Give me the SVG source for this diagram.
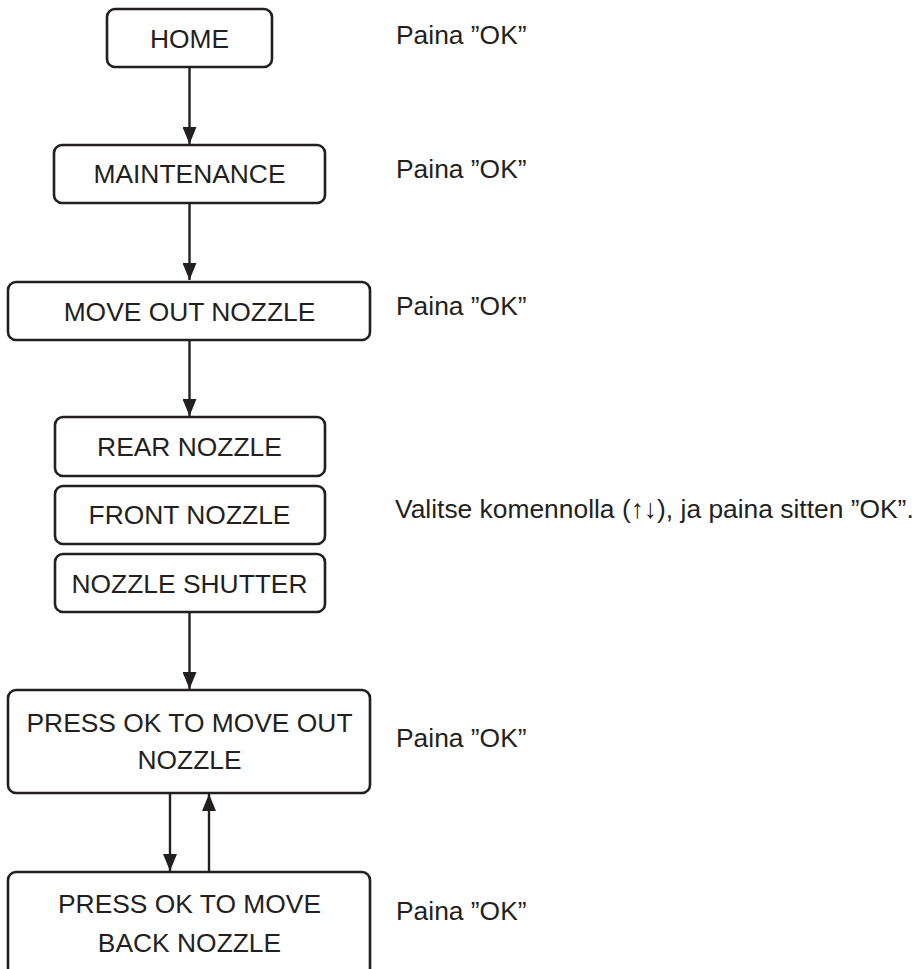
<svg xmlns="http://www.w3.org/2000/svg" width="917" height="969" viewBox="0 0 917 969">
<style>
.box{fill:#fff;stroke:#231f20;stroke-width:2.6}
.t{font-family:"Liberation Sans",Arial,sans-serif;font-size:26.4px;fill:#231f20}
.c{text-anchor:middle}
.ln{stroke:#231f20;stroke-width:2.4;fill:none}
</style>
<defs>
<marker id="ah" viewBox="0 0 17 14" refX="17" refY="7" markerWidth="17" markerHeight="14" markerUnits="userSpaceOnUse" orient="auto">
<path d="M0,0 L17,7 L0,14 Z" fill="#231f20"/>
</marker>
</defs>
<rect width="917" height="969" fill="#fff"/>
<g id="connectors">
<line class="ln" x1="189.5" y1="67" x2="189.5" y2="144" marker-end="url(#ah)"/>
<line class="ln" x1="189.5" y1="203" x2="189.5" y2="280" marker-end="url(#ah)"/>
<line class="ln" x1="189.5" y1="340" x2="189.5" y2="416" marker-end="url(#ah)"/>
<line class="ln" x1="189.5" y1="612" x2="189.5" y2="689" marker-end="url(#ah)"/>
<line class="ln" x1="170" y1="793" x2="170" y2="871" marker-end="url(#ah)"/>
<line class="ln" x1="209" y1="871" x2="209" y2="794" marker-end="url(#ah)"/>
</g>
<g id="home"><rect class="box" x="107" y="9" width="165" height="58" rx="8"/><text class="t c" x="189.5" y="48">HOME</text></g>
<g id="maintenance"><rect class="box" x="54" y="145" width="271" height="58" rx="8"/><text class="t c" x="189.5" y="183">MAINTENANCE</text></g>
<g id="move-out-nozzle"><rect class="box" x="8" y="282" width="362" height="58" rx="8"/><text class="t c" x="189.5" y="321">MOVE OUT NOZZLE</text></g>
<g id="rear-nozzle"><rect class="box" x="55" y="417" width="270" height="59" rx="8"/><text class="t c" x="189.5" y="456">REAR NOZZLE</text></g>
<g id="front-nozzle"><rect class="box" x="55" y="486" width="270" height="58" rx="8"/><text class="t c" x="189.5" y="524">FRONT NOZZLE</text></g>
<g id="nozzle-shutter"><rect class="box" x="55" y="554" width="270" height="58" rx="8"/><text class="t c" x="189.5" y="593">NOZZLE SHUTTER</text></g>
<g id="press-ok-out"><rect class="box" x="8" y="690" width="362" height="103" rx="8"/><text class="t c" x="189.5" y="732">PRESS OK TO MOVE OUT</text><text class="t c" x="189.5" y="769">NOZZLE</text></g>
<g id="press-ok-back"><rect class="box" x="8" y="872" width="362" height="110" rx="8"/><text class="t c" x="189.5" y="913">PRESS OK TO MOVE</text><text class="t c" x="189.5" y="952">BACK NOZZLE</text></g>
<g id="notes">
<text class="t" x="396" y="44">Paina ”OK”</text>
<text class="t" x="396" y="178">Paina ”OK”</text>
<text class="t" x="396" y="315">Paina ”OK”</text>
<text class="t" x="395" y="518">Valitse komennolla (↑↓), ja paina sitten ”OK”.</text>
<text class="t" x="396" y="747">Paina ”OK”</text>
<text class="t" x="396" y="920">Paina ”OK”</text>
</g>
</svg>
